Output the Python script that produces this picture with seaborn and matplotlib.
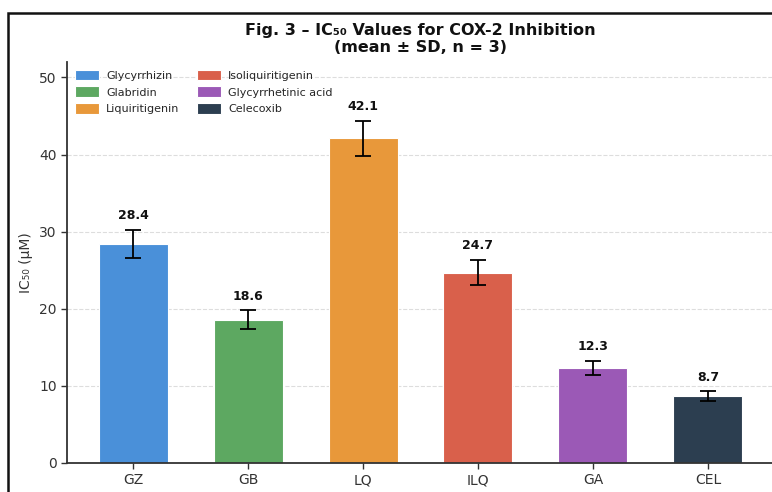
import matplotlib
matplotlib.use("Agg")
import matplotlib.pyplot as plt
import seaborn as sns
import pandas as pd
from matplotlib.patches import Rectangle

# Data
codes = ["GZ", "GB", "LQ", "ILQ", "GA", "CEL"]
compounds = ["Glycyrrhizin", "Glabridin", "Liquiritigenin",
             "Isoliquiritigenin", "Glycyrrhetinic acid", "Celecoxib"]
ic50_mean = [28.4, 18.6, 42.1, 24.7, 12.3, 8.7]
ic50_sd = [1.8, 1.2, 2.3, 1.6, 0.9, 0.6]
colors = ["#4A90D9", "#5DA861", "#E8983A", "#D9604B", "#9B59B6", "#2C3E50"]

df = pd.DataFrame({"code": codes, "compound": compounds,
                   "mean": ic50_mean, "sd": ic50_sd})

sns.set_theme(style="white")
plt.rcParams["font.family"] = ["DejaVu Sans"]

fig = plt.figure(figsize=(7.72, 4.92), dpi=100)
ax = fig.add_axes([67 / 772, 29 / 492, 707 / 772, 401 / 492])

sns.barplot(data=df, x="code", y="mean", hue="compound",
            palette=colors, saturation=1, width=0.6, dodge=False,
            errorbar=None, edgecolor="white", linewidth=0.8, ax=ax)

ax.errorbar(x=range(len(codes)), y=df["mean"], yerr=df["sd"],
            fmt="none", ecolor="black", elinewidth=1.3, capsize=6,
            capthick=1.3, zorder=5)

for i, (m, s) in enumerate(zip(ic50_mean, ic50_sd)):
    ax.text(i, m + s + 1.0, f"{m:.1f}", ha="center", va="bottom",
            fontsize=9, fontweight="bold", color="#111111")

ax.set_ylim(0, 52)
ax.set_xlim(-0.575, 5.575)
ax.set_yticks([0, 10, 20, 30, 40, 50])
ax.yaxis.grid(True, linestyle="--", color="#dddddd", linewidth=0.8)
ax.set_axisbelow(True)

for side in ("top", "right"):
    ax.spines[side].set_visible(False)
for side in ("left", "bottom"):
    ax.spines[side].set_color("#333333")
    ax.spines[side].set_linewidth(1.3)

ax.tick_params(axis="both", which="both", direction="out", length=4,
               width=1, color="#333333", labelsize=10, labelcolor="#333333",
               bottom=True, left=True)
ax.set_xlabel("")
ax.set_ylabel("IC₅₀ (μM)", fontsize=10, color="#333333")

ax.set_title("Fig. 3 – IC₅₀ Values for COX-2 Inhibition\n(mean ± SD, n = 3)",
             fontsize=11.5, fontweight="bold", color="#111111", pad=7)

handles, labels = ax.get_legend_handles_labels()
ax.legend(handles, labels, loc="upper left", ncol=2, frameon=False,
          fontsize=8, handlelength=2.2, handleheight=1.1,
          handletextpad=0.6, columnspacing=1.6, borderaxespad=0.3,
          labelspacing=0.5)

# Figure frame
fig.patches.append(Rectangle((8 / 772, -0.5), 2.0, 0.5 + (492 - 13) / 492,
                             transform=fig.transFigure, fill=False,
                             edgecolor="#111111", linewidth=1.8,
                             clip_on=False, zorder=10))

fig.savefig("out.png", dpi=100)
